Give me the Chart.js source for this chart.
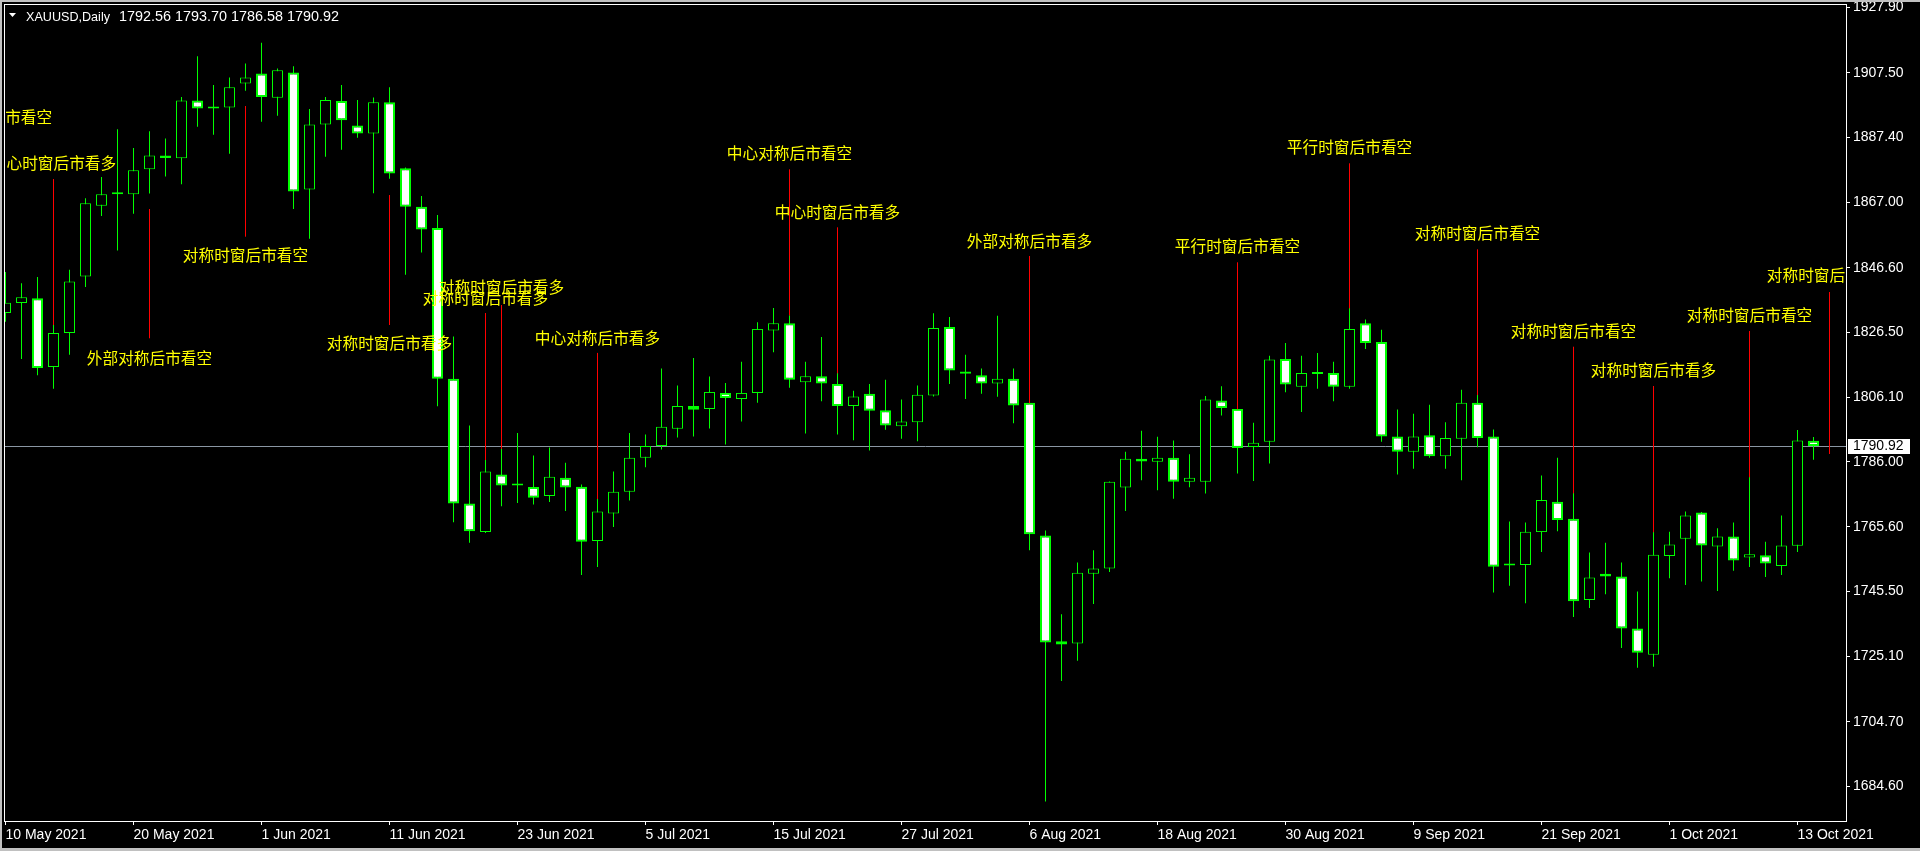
<!DOCTYPE html>
<html><head><meta charset="utf-8">
<script src="https://cdn.jsdelivr.net/npm/chart.js@4.4.1/dist/chart.umd.min.js"></script>
<style>html,body{margin:0;padding:0;background:#000;overflow:hidden}canvas{display:block}</style>
</head><body>
<canvas id="c" width="1920" height="851"></canvas>
<script>
// ---- data ----
const symbolTitle = 'XAUUSD,Daily';
const opens = [1832.5,1835.6,1837.1,1815.6,1826.2,1843.9,1866.0,1869.6,1869.6,1877.4,
  1881.7,1880.8,1898.9,1896.4,1896.7,1904.2,1907.3,1899.7,1907.6,1871.1,
  1891.4,1898.7,1891.1,1888.6,1898.3,1877.7,1865.7,1859.0,1811.9,1772.9,
  1764.0,1782.0,1778.6,1778.1,1775.3,1781.0,1778.2,1761.2,1769.8,1776.6,
  1787.2,1790.9,1796.3,1803.4,1802.5,1807.5,1805.6,1807.5,1827.0,1829.3,
  1810.8,1812.7,1810.3,1803.4,1807.2,1802.1,1797.1,1798.3,1806.7,1828.1,
  1814.2,1813.0,1810.4,1811.9,1804.4,1762.9,1729.9,1729.2,1751.0,1752.6,
  1777.9,1786.9,1786.0,1787.2,1779.7,1779.7,1805.1,1802.5,1790.6,1792.2,
  1818.1,1809.4,1813.4,1813.7,1809.4,1829.3,1823.4,1793.9,1789.1,1794.3,
  1787.7,1793.2,1804.4,1793.9,1753.6,1753.7,1764.0,1773.5,1768.2,1742.8,
  1751.0,1750.1,1733.9,1725.7,1756.5,1761.9,1770.1,1759.5,1762.6,1756.1,
  1756.8,1753.4,1759.7,1792.56];
const highs = [1845.3,1841.8,1843.7,1828.8,1846.0,1868.3,1875.0,1889.9,1884.0,1889.3,
  1887.0,1900.0,1912.7,1903.7,1906.1,1910.4,1916.9,1908.9,1909.6,1896.2,
  1900.0,1903.7,1899.0,1899.8,1903.0,1877.9,1869.0,1863.1,1825.1,1797.3,
  1786.7,1790.1,1795.0,1787.9,1790.4,1785.7,1778.9,1774.5,1782.9,1795.0,
  1794.5,1815.1,1809.8,1818.4,1812.6,1810.6,1817.2,1829.6,1834.0,1831.8,
  1817.2,1825.0,1813.7,1808.2,1810.3,1811.6,1805.4,1809.8,1832.4,1831.2,
  1819.4,1815.1,1831.6,1815.1,1804.6,1764.5,1738.3,1754.5,1758.3,1779.8,
  1789.1,1795.7,1793.8,1792.6,1788.3,1806.5,1809.6,1802.7,1798.2,1819.1,
  1823.1,1819.1,1820.0,1817.2,1834.0,1830.4,1827.2,1802.3,1801.0,1803.8,
  1798.3,1808.5,1807.0,1796.1,1767.3,1767.0,1781.7,1787.2,1776.3,1757.6,
  1760.7,1754.5,1745.4,1764.1,1764.1,1770.4,1770.3,1765.2,1767.0,1781.3,
  1761.0,1769.2,1795.9,1793.70];
const lows = [1829.7,1818.1,1813.0,1808.8,1819.4,1840.6,1862.8,1852.0,1863.5,1869.8,
  1875.1,1872.7,1890.7,1888.2,1882.2,1901.9,1892.2,1894.1,1865.0,1855.7,
  1881.3,1883.5,1887.2,1869.9,1874.4,1844.4,1851.4,1803.3,1767.1,1760.7,
  1763.7,1772.1,1773.1,1772.6,1773.4,1770.6,1750.6,1753.1,1765.6,1773.9,
  1784.3,1789.8,1793.6,1793.9,1796.4,1791.4,1798.6,1804.4,1820.2,1809.1,
  1794.8,1804.9,1794.5,1792.7,1789.5,1796.0,1793.2,1792.4,1806.4,1810.3,
  1805.6,1807.2,1806.3,1798.0,1758.3,1679.8,1717.5,1723.8,1741.5,1751.5,
  1770.6,1780.2,1777.1,1774.4,1778.0,1776.1,1800.4,1782.3,1780.0,1785.4,
  1807.7,1801.5,1808.8,1804.9,1808.8,1821.2,1792.2,1782.0,1783.8,1787.2,
  1783.8,1780.2,1790.5,1745.1,1747.2,1741.8,1757.8,1764.3,1737.5,1740.3,
  1744.6,1727.8,1721.6,1721.9,1749.6,1747.5,1748.6,1745.6,1751.9,1753.1,
  1750.0,1750.6,1757.8,1786.58];
const closes = [1835.7,1837.4,1815.3,1826.2,1842.3,1866.8,1869.6,1869.7,1877.1,1881.7,
  1880.9,1898.9,1896.4,1896.6,1903.0,1906.1,1900.0,1908.3,1870.4,1891.4,
  1899.0,1892.7,1888.6,1898.3,1876.1,1865.7,1858.6,1811.9,1772.9,1764.3,
  1782.9,1778.6,1778.7,1774.7,1781.3,1777.9,1761.0,1770.4,1776.6,1787.2,
  1790.9,1796.9,1803.4,1802.2,1807.8,1805.9,1807.5,1827.5,1829.3,1811.6,
  1812.7,1810.4,1803.4,1806.4,1801.9,1797.3,1798.6,1806.9,1827.8,1814.5,
  1813.5,1810.4,1811.9,1803.6,1763.3,1729.5,1728.9,1751.3,1752.6,1779.7,
  1786.9,1786.1,1787.2,1779.7,1781.0,1805.4,1802.8,1790.3,1791.9,1817.9,
  1810.1,1813.7,1814.0,1809.4,1827.5,1823.1,1793.9,1789.1,1793.9,1787.7,
  1793.4,1804.4,1793.4,1753.2,1753.7,1764.1,1774.0,1767.8,1742.4,1749.8,
  1750.1,1733.9,1726.3,1756.9,1760.1,1769.2,1759.8,1762.6,1755.1,1757.1,
  1754.2,1759.8,1792.6,1790.92];

const xTickIndex = [0,8,16,24,32,40,48,56,64,72,80,88,96,104,112];
const xTickLabels = ['10 May 2021','20 May 2021','1 Jun 2021','11 Jun 2021','23 Jun 2021','5 Jul 2021',
  '15 Jul 2021','27 Jul 2021','6 Aug 2021','18 Aug 2021','30 Aug 2021','9 Sep 2021','21 Sep 2021',
  '1 Oct 2021','13 Oct 2021'];
const yTickValues = [1927.90,1907.50,1887.40,1867.00,1846.60,1826.50,1806.10,1786.00,1765.60,1745.50,1725.10,1704.70,1684.60];

// annotations (text objects + vertical trend lines)
const annIndex = [-1,3,9,15,24,30,31,37,49,52,64,77,84,92,98,103,109,114];
const annText = ['对称时窗后市看空','中心时窗后市看多','外部对称后市看空','对称时窗后市看空','对称时窗后市看多',
  '对称时窗后市看多','对称时窗后市看多','中心对称后市看多','中心对称后市看空','中心时窗后市看多',
  '外部对称后市看多','平行时窗后市看空','平行时窗后市看空','对称时窗后市看空','对称时窗后市看空',
  '对称时窗后市看多','对称时窗后市看空','对称时窗后市看空'];
const annLabelPrice = [1893.81,1879.25,1818.50,1850.59,1823.00,1837.16,1840.59,1824.75,1882.37,1864.12,
  1855.06,1853.41,1884.44,1857.37,1826.84,1814.66,1831.84,1844.34];
const annLineTop = [null,1874.34,1864.97,1897.15,1869.34,1832.47,1834.97,1820.00,1877.37,1859.25,
  1850.28,1848.31,1879.25,1852.37,1821.94,1809.66,1826.84,1839.03];
const annLineBottom = [null,1828.72,1824.56,1856.31,1828.72,1786.53,1789.97,1774.34,1831.75,1813.62,
  1804.25,1802.37,1833.93,1806.84,1776.12,1763.94,1781.12,1788.41];

// ---- view range ----
const X_MIN = -0.03125, X_MAX = 115.03125;
const Y_MIN = 1673.72, Y_MAX = 1928.72;

const GREEN = '#00ff00';
const AXIS_FONT = '"Liberation Sans", Arial, sans-serif';
const CJK_FONT = '"Noto Sans CJK SC", sans-serif';

const idx = opens.map((_, i) => i);
const bodies = idx.map(i => ({x: i, y: [opens[i], closes[i]]}));
const wicks = idx.map(i => ({x: i, y: [lows[i], highs[i]]}));
const isBull = i => closes[i] >= opens[i];

const mt4Plugin = {
  id: 'mt4',
  beforeDraw(chart) {
    const ctx = chart.ctx;
    ctx.save();
    ctx.fillStyle = '#000';
    ctx.fillRect(0, 0, chart.width, chart.height);
    ctx.restore();
  },
  beforeDatasetsDraw(chart) {
    const {ctx, chartArea: a, scales: {y}} = chart;
    const py = Math.round(y.getPixelForValue(closes[closes.length - 1])) + 0.5;
    ctx.save();
    ctx.strokeStyle = '#8a96a3';
    ctx.lineWidth = 1;
    ctx.beginPath();
    ctx.moveTo(a.left, py);
    ctx.lineTo(a.right, py);
    ctx.stroke();
    ctx.restore();
  },
  afterDatasetsDraw(chart) {
    const {ctx, chartArea: a, scales: {x, y}} = chart;
    ctx.save();
    ctx.beginPath();
    ctx.rect(a.left, a.top, a.right - a.left, a.bottom - a.top);
    ctx.clip();
    ctx.strokeStyle = '#ff0000';
    ctx.lineWidth = 1;
    annIndex.forEach((k, j) => {
      if (annLineTop[j] === null) return;
      const px = Math.floor(x.getPixelForValue(k)) + 0.5;
      ctx.beginPath();
      ctx.moveTo(px, y.getPixelForValue(annLineTop[j]));
      ctx.lineTo(px, y.getPixelForValue(annLineBottom[j]));
      ctx.stroke();
    });
    ctx.fillStyle = '#ffff00';
    ctx.font = '15.7px ' + CJK_FONT;
    ctx.textAlign = 'center';
    ctx.textBaseline = 'middle';
    annIndex.forEach((k, j) => {
      ctx.fillText(annText[j], x.getPixelForValue(k), y.getPixelForValue(annLabelPrice[j]));
    });
    ctx.restore();
  },
  afterDraw(chart) {
    const {ctx, chartArea: a, scales: {y}} = chart;
    ctx.save();
    // window chrome strips
    ctx.fillStyle = '#c0c0c0';
    ctx.fillRect(0, 0, chart.width, 2);
    ctx.fillRect(0, 0, 2, chart.height);
    ctx.fillRect(0, chart.height - 3, chart.width, 3);
    // frame
    ctx.strokeStyle = '#ffffff';
    ctx.lineWidth = 1;
    ctx.strokeRect(a.left - 0.5, a.top - 0.5, a.right - a.left + 1, a.bottom - a.top + 1);
    // current price box
    const last = closes[closes.length - 1];
    const py = Math.round(y.getPixelForValue(last));
    ctx.fillStyle = '#ffffff';
    ctx.fillRect(a.right + 2, py - 7, 62, 15);
    ctx.fillStyle = '#000000';
    ctx.font = '14px ' + AXIS_FONT;
    ctx.textAlign = 'left';
    ctx.textBaseline = 'middle';
    ctx.fillText(last.toFixed(2), a.right + 7, py + 0.5);
    // title
    ctx.fillStyle = '#ffffff';
    ctx.beginPath();
    ctx.moveTo(9, 13); ctx.lineTo(16, 13); ctx.lineTo(12.5, 17); ctx.closePath();
    ctx.fill();
    ctx.textBaseline = 'alphabetic';
    ctx.font = '12.6px ' + AXIS_FONT;
    ctx.fillText(symbolTitle, 26, 21);
    ctx.font = '14.4px ' + AXIS_FONT;
    const n = opens.length - 1;
    ctx.fillText([opens[n], highs[n], lows[n], closes[n]].map(v => v.toFixed(2)).join(' '), 119, 21);
    ctx.restore();
  }
};

new Chart(document.getElementById('c').getContext('2d'), {
  type: 'bar',
  data: {
    datasets: [
      {
        label: 'body', data: bodies, order: 0, grouped: false, clip: 0,
        barThickness: 11, minBarLength: 2, inflateAmount: 0, borderSkipped: false,
        backgroundColor: c => isBull(c.dataIndex) ? '#000000' : '#ffffff',
        borderColor: GREEN,
        borderWidth: c => isBull(c.dataIndex) ? 1 : 2
      },
      {
        label: 'wick', data: wicks, order: 1, grouped: false, clip: 0,
        barThickness: 1, inflateAmount: 0, borderWidth: 0,
        backgroundColor: GREEN
      }
    ]
  },
  options: {
    responsive: false, animation: false, devicePixelRatio: 1,
    layout: {padding: {left: 5, top: 5, right: 0, bottom: 0}},
    plugins: {legend: {display: false}, tooltip: {enabled: false}},
    scales: {
      x: {
        type: 'linear', min: X_MIN, max: X_MAX, bounds: 'data', offset: false,
        grid: {offset: false, drawOnChartArea: false, drawTicks: true, tickLength: 4, tickColor: '#ffffff', tickWidth: 1},
        border: {display: false},
        ticks: {
          autoSkip: false, maxRotation: 0, minRotation: 0, align: 'start', padding: 2, color: '#ffffff',
          font: {family: AXIS_FONT, size: 14},
          callback: (v, i) => xTickLabels[i]
        },
        afterBuildTicks: s => { s.ticks = xTickIndex.map(v => ({value: v})); },
        afterFit: s => { s.height = 30; s.paddingLeft = 0; s.paddingRight = 0; s.paddingTop = 0; s.paddingBottom = 0; }
      },
      y: {
        type: 'linear', position: 'right', min: Y_MIN, max: Y_MAX, bounds: 'data',
        grid: {drawOnChartArea: false, drawTicks: true, tickLength: 4, tickColor: '#ffffff', tickWidth: 1},
        border: {display: false},
        ticks: {
          autoSkip: false, padding: 3, color: '#ffffff',
          font: {family: AXIS_FONT, size: 14},
          callback: v => Number(v).toFixed(2)
        },
        afterBuildTicks: s => { s.ticks = yTickValues.map(v => ({value: v})); },
        afterFit: s => { s.width = 74; s.paddingLeft = 0; s.paddingRight = 0; s.paddingTop = 0; s.paddingBottom = 0; }
      }
    }
  },
  plugins: [mt4Plugin]
});
</script>
</body></html>
